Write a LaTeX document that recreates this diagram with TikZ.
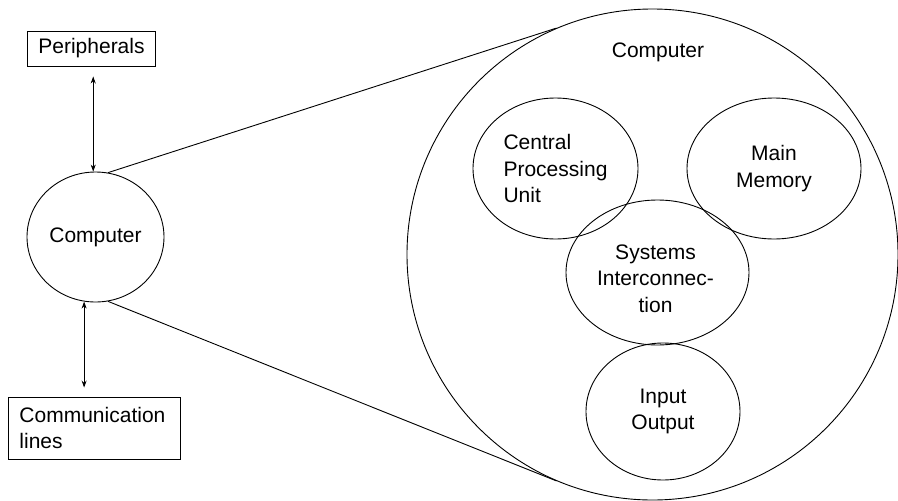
\documentclass[tikz,border=0pt]{standalone}
\usepackage{fontspec}
\setmainfont{Liberation Sans}
\usepackage{tikz}
\usetikzlibrary{shapes.geometric,arrows.meta}

\begin{document}
\begin{tikzpicture}[x=1pt,y=-1pt,line width=0.9pt,
    font=\fontsize{21}{26.5}\selectfont,
    part/.style={draw,ellipse,inner sep=0pt},
    labelbox/.style={draw,rectangle,align=left,inner xsep=11pt,inner ysep=0pt},
    link/.style={{Stealth[length=7pt,width=5pt]}-{Stealth[length=7pt,width=5pt]}}]
    \useasboundingbox (0,0) rectangle (898,501);

    \node[labelbox,minimum height=35pt] (peri) at (91.5,48.5) {Peripherals};
    \node[part,minimum width=137pt,minimum height=130pt] (comp) at (95.5,237) {Computer};
    \node[labelbox,text width=150pt,minimum height=62pt] (comm) at (94.5,428) {Communication\\lines};

    \draw[link] ([yshift=-10pt]peri.south -| comp.92) -- (comp.92);
    \draw[link] (comp.-100) -- ([yshift=9pt]comm.north -| comp.-100);

    \node[draw,circle,inner sep=0pt,minimum size=491pt] (big) at (652.5,254.5) {};
    \node (biglabel) at (658,52) {Computer};

    \draw (comp.79) -- (big.113);
    \draw (comp.-79) -- (big.-113);

    \node[part,minimum width=165pt,minimum height=141pt,align=left] (cpu) at (555.5,168.5) {Central\\Processing\\Unit};
    \node[part,minimum width=174pt,minimum height=141pt,align=center] (mem) at (774,168.5) {Main\\Memory};
    \node[part,minimum width=183pt,minimum height=145pt] (bus) at (657.5,272.5) {};
    \node[align=center] (bustext) at ([shift={(-2,6)}]bus.center) {Systems\\Interconnec-\\tion};
    \node[part,minimum width=154pt,minimum height=137pt,align=center] (io) at (663,411.5) {Input\\Output};
\end{tikzpicture}
\end{document}
